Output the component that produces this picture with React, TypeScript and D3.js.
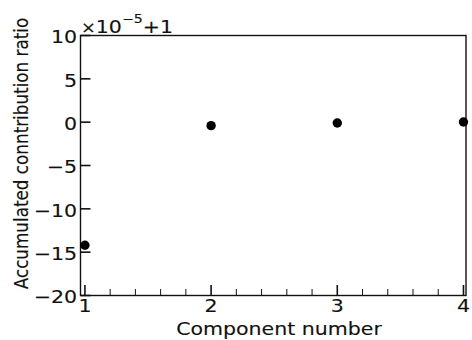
import * as d3 from "d3";

// component number vs accumulated ratio, shown as (value - 1) * 1e5
const components = [1, 2, 3, 4];
const ratioOffset = [-14.2, -0.4, -0.1, 0.02];
const yTicks = [-20, -15, -10, -5, 0, 5, 10];
const xMajorTicks = [1, 2, 3, 4];

const width = 472;
const height = 340;
const stretch = 1.18; // the picture is a little wider than tall
const fontSize = 17.4;
const font = "DejaVu Sans";
const ink = "#111";

const App = () => {
    const xScale = d3.scaleLinear().domain([0.965, 4.02]).range([80.5, 466]);
    const yScale = d3.scaleLinear().domain([-20, 10]).range([295.5, 35.5]);

    const [x0, x1] = xScale.range();
    const [y0, y1] = yScale.range();

    // minor ticks every 0.2 between majors
    const xMinorTicks = d3
        .range(1, 4.001, 0.2)
        .filter((t) => Math.abs(t - Math.round(t)) > 0.01);

    const fmt = (v) => (v < 0 ? "\u2212" + Math.abs(v) : String(v));

    const textStyle = {
        fill: ink,
        stroke: ink,
        strokeWidth: 0.12,
    };

    return (
        <svg
            width={width}
            height={height}
            style={{ position: "absolute", left: 0, top: 0, background: "#fff" }}
            fontFamily={font}
        >
            {/* frame */}
            <rect
                x={x0}
                y={y1}
                width={x1 - x0}
                height={y0 - y1}
                fill="none"
                stroke={ink}
                strokeWidth={1.4}
            />

            {/* y ticks (inward) */}
            {yTicks.map((t) => (
                <g key={"y" + t}>
                    <line
                        x1={x0}
                        x2={x0 + 10}
                        y1={yScale(t)}
                        y2={yScale(t)}
                        stroke={ink}
                        strokeWidth={1.6}
                    />
                    <text
                        transform={`translate(77,${yScale(t) + 7.9}) scale(${stretch},1)`}
                        textAnchor="end"
                        fontSize={fontSize}
                        style={textStyle}
                    >
                        {fmt(t)}
                    </text>
                </g>
            ))}

            {/* x ticks */}
            {xMajorTicks.map((t) => (
                <g key={"x" + t}>
                    <line
                        x1={xScale(t)}
                        x2={xScale(t)}
                        y1={y0}
                        y2={y0 - 10.5}
                        stroke={ink}
                        strokeWidth={1.6}
                    />
                    <text
                        transform={`translate(${xScale(t)},312) scale(${stretch},1)`}
                        textAnchor="middle"
                        fontSize={fontSize}
                        style={textStyle}
                    >
                        {t}
                    </text>
                </g>
            ))}
            {xMinorTicks.map((t) => (
                <line
                    key={"m" + t}
                    x1={xScale(t)}
                    x2={xScale(t)}
                    y1={y0}
                    y2={y0 - 6.5}
                    stroke={ink}
                    strokeWidth={1}
                />
            ))}

            {/* offset text */}
            <text
                transform={`translate(81,33.3) scale(${stretch},1)`}
                fontSize={fontSize}
                style={textStyle}
            >
                <tspan fontSize={15}>×</tspan>
                <tspan>10</tspan>
                <tspan fontSize={12} dy={-10}>
                    −5
                </tspan>
                <tspan dy={10}>+1</tspan>
            </text>

            {/* points */}
            {components.map((c, i) => (
                <circle
                    key={"p" + c}
                    cx={xScale(c)}
                    cy={yScale(ratioOffset[i])}
                    r={4.7}
                    fill="#000"
                />
            ))}

            {/* axis labels */}
            <text
                transform={`translate(279,335) scale(${stretch},1)`}
                textAnchor="middle"
                fontSize={fontSize}
                style={textStyle}
            >
                Component number
            </text>
            <text
                transform={`translate(28,153.5) rotate(-90) scale(1,${stretch})`}
                textAnchor="middle"
                fontSize={16.8}
                style={textStyle}
            >
                Accumulated conntribution ratio
            </text>
        </svg>
    );
};

export default App;
